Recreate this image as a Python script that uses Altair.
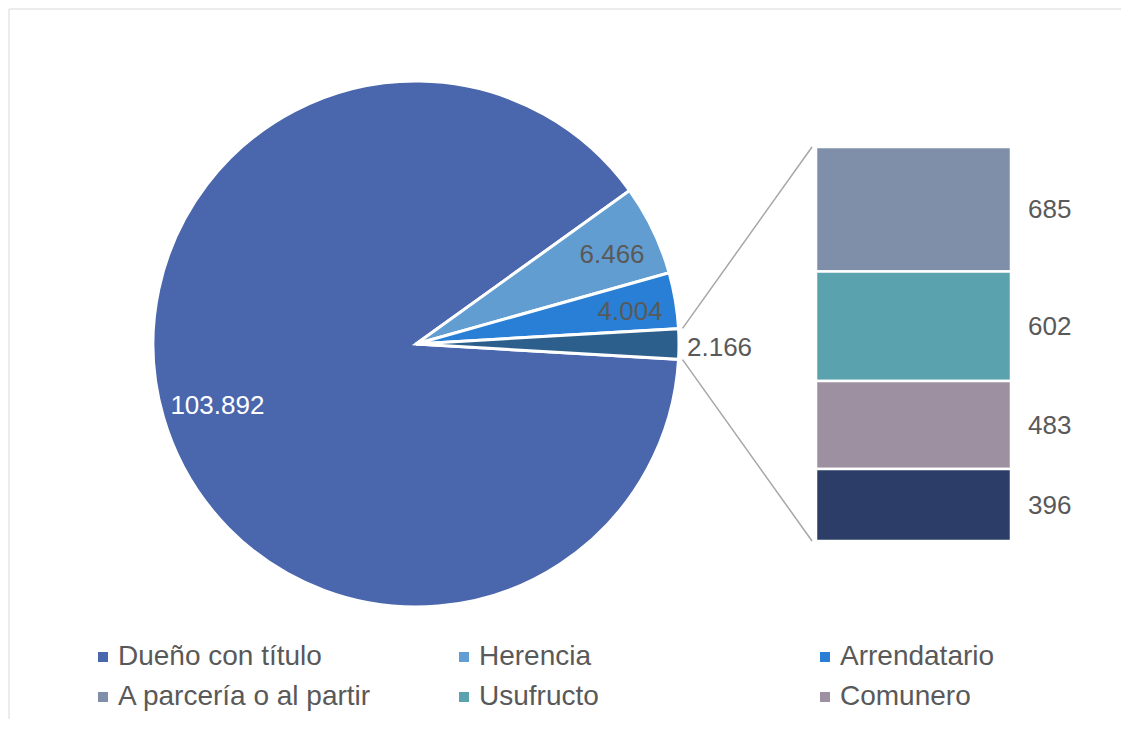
import math
import pandas as pd
import altair as alt

# ---------------- data ----------------
pie_cats = ["Dueño con título", "Herencia", "Arrendatario", "Otras formas"]
pie_vals = [103892, 6466, 4004, 2166]

bar_cats = ["A parcería o al partir", "Usufructo", "Comunero", "Otra"]  # top -> bottom
bar_vals = [685, 602, 483, 396]

legend_cats = ["Dueño con título", "Herencia", "Arrendatario",
               "A parcería o al partir", "Usufructo", "Comunero"]

pie_colors = ["#4A66AC", "#629DD1", "#297FD5", "#2C5F8C"]
bar_colors = ["#7F8FA9", "#5AA2AE", "#9D90A0", "#2C3D68"]

# ---------------- layout / style ----------------
W, H = 1112, 710
CX, CY, R = 407, 335, 263
BX0, BX1, BTOP, BBOT = 807, 1002, 138, 532
LABEL_X = 1019
FONT = "Liberation Sans"
GRAY = "#595959"


def fmt(v):
    return f"{v:,}".replace(",", ".")


# pie table
total = sum(pie_vals)
df_pie = pd.DataFrame({"cat": pie_cats, "val": pie_vals})
df_pie["e"] = df_pie["val"].cumsum()
df_pie["s"] = df_pie["e"] - df_pie["val"]
df_pie["m"] = (df_pie["s"] + df_pie["e"]) / 2
df_pie["label"] = [fmt(v) for v in pie_vals]

frac_other = pie_vals[-1] / total
a0 = math.pi / 2 + math.pi * frac_other
theta_scale = alt.Scale(domain=[0, total], range=[a0, a0 + 2 * math.pi])

# bar table (stack from bottom)
df_bar = pd.DataFrame({"cat": bar_cats, "val": bar_vals})
df_bar["b1"] = df_bar["val"][::-1].cumsum()[::-1]
df_bar["b0"] = df_bar["b1"] - df_bar["val"]
df_bar["bm"] = (df_bar["b0"] + df_bar["b1"]) / 2
df_bar["label"] = [fmt(v) for v in bar_vals]

bar_total = sum(bar_vals)
k = (BBOT - BTOP) / bar_total
y_scale = alt.Scale(domain=[-(H - BBOT) / k, bar_total + BTOP / k], nice=False, zero=False)

color_enc = alt.Color(
    "cat:N",
    scale=alt.Scale(domain=pie_cats + bar_cats, range=pie_colors + bar_colors),
    legend=alt.Legend(
        values=legend_cats, orient="none", legendX=80, legendY=634, columns=3,
        direction="horizontal",
        gridAlign="all", columnPadding=78, rowPadding=12, symbolType="square",
        symbolSize=100, symbolStrokeWidth=0, labelFontSize=28, labelFont=FONT,
        labelColor=GRAY, labelOffset=1, title=None, padding=0, labelLimit=0,
        labelExpr="datum.value == '" + legend_cats[0] + "' ? '\u00a0\u00a0' + datum.label : datum.label",
    ),
)

base_pie = alt.Chart(df_pie).encode(x=alt.value(CX), y=alt.value(CY))

arcs = base_pie.mark_arc(outerRadius=R, stroke="white", strokeWidth=3).encode(
    theta=alt.Theta("s:Q", scale=theta_scale),
    theta2="e:Q",
    color=color_enc,
)

inner_labels = base_pie.transform_filter(
    alt.FieldOneOfPredicate(field="cat", oneOf=pie_cats[:3])
).mark_text(radius=212, fontSize=26, font=FONT, dx=5, dy=3).encode(
    theta=alt.Theta("m:Q", scale=theta_scale),
    text="label:N",
    color=alt.condition(alt.datum.cat == pie_cats[0], alt.value("white"), alt.value(GRAY)),
)

outer_label = base_pie.transform_filter(
    alt.FieldEqualPredicate(field="cat", equal=pie_cats[3])
).mark_text(radius=R + 8, fontSize=26, font=FONT, align="left", dy=4, color=GRAY).encode(
    theta=alt.Theta("m:Q", scale=theta_scale),
    text="label:N",
)

bars = alt.Chart(df_bar).mark_bar(stroke="white", strokeWidth=2.5).encode(
    x=alt.value(BX0), x2=alt.value(BX1),
    y=alt.Y("b0:Q", scale=y_scale, axis=None), y2="b1:Q",
    color=color_enc,
)

bar_labels = alt.Chart(df_bar).mark_text(align="left", fontSize=26, font=FONT, color=GRAY, dy=1).encode(
    x=alt.value(LABEL_X),
    y=alt.Y("bm:Q", scale=y_scale, axis=None),
    text="label:N",
)

# connector lines from the "other" slice to the bar
one = pd.DataFrame({"k": [0]})
ang_top = math.pi / 2 - math.pi * frac_other
ang_bot = math.pi / 2 + math.pi * frac_other
RC = R + 4
conn_top = alt.Chart(one).mark_rule(color="#A6A6A6", strokeWidth=1.5).encode(
    x=alt.value(CX + RC * math.sin(ang_top)), y=alt.value(CY - RC * math.cos(ang_top)),
    x2=alt.value(BX0 - 4), y2=alt.value(BTOP),
)
conn_bot = alt.Chart(one).mark_rule(color="#A6A6A6", strokeWidth=1.5).encode(
    x=alt.value(CX + RC * math.sin(ang_bot)), y=alt.value(CY - RC * math.cos(ang_bot)),
    x2=alt.value(BX0 - 4), y2=alt.value(BBOT),
)

# chart frame (top and left edges visible)
frame_top = alt.Chart(one).mark_rule(color="#D9D9D9", strokeWidth=1).encode(
    x=alt.value(0), x2=alt.value(W), y=alt.value(0)
)
frame_left = alt.Chart(one).mark_rule(color="#D9D9D9", strokeWidth=1).encode(
    x=alt.value(0), y=alt.value(0), y2=alt.value(H)
)

chart = alt.layer(
    frame_top, frame_left, arcs, inner_labels, outer_label,
    conn_top, conn_bot, bars, bar_labels,
).properties(width=W, height=H, padding=0, background="white").configure_view(stroke=None)

chart.save("out.html", embed_options={"renderer": "svg", "actions": False})
